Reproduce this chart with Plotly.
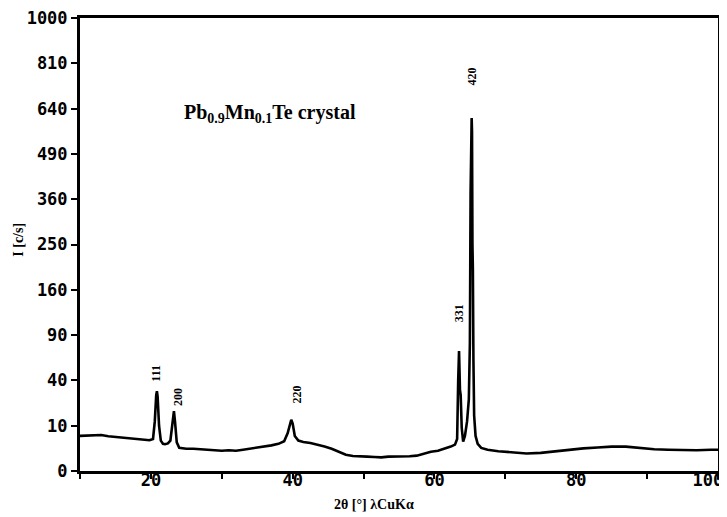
import numpy as np
import plotly.graph_objects as go

# 2-theta (degrees) and intensity (c/s)
two_theta = [10.0, 11.0, 12.0, 13.0, 14.0, 15.0, 16.0, 17.0, 18.0, 19.0, 19.8, 20.3, 20.55, 20.75,
             20.85, 20.95, 21.15, 21.4, 21.7, 22.0, 22.4, 22.75, 23.0, 23.15, 23.25, 23.4, 23.65,
             24.0, 24.5, 25.0, 26.0, 27.0, 28.0, 29.0, 30.0, 31.0, 32.0, 33.0, 34.0, 35.0, 36.0,
             37.0, 38.0, 38.8, 39.3, 39.6, 39.8, 40.0, 40.3, 40.8, 41.5, 42.5, 43.5, 44.5, 45.5,
             46.5, 47.5, 48.5, 49.5, 50.5, 51.5, 52.5, 53.5, 54.5, 55.5, 56.5, 57.5, 58.5, 59.5,
             60.5, 61.5, 62.3, 62.9, 63.2, 63.35, 63.47, 63.6, 63.7, 63.85, 64.05, 64.3, 64.6,
             64.85, 65.0, 65.1, 65.25, 65.3, 65.36, 65.42, 65.5, 65.6, 65.8, 66.1, 66.6, 67.5,
             69.0, 71.0, 73.0, 75.0, 77.0, 79.0, 81.0, 83.0, 85.0, 87.0, 89.0, 91.0, 93.0, 95.0,
             97.0, 99.0, 100.0]
intensity = [6.0, 6.1, 6.3, 6.3, 5.9, 5.7, 5.5, 5.3, 5.1, 4.9, 4.6, 5.0, 12, 28,
             31, 27, 10, 4.5, 3.6, 3.5, 3.7, 4.5, 11, 17, 17.5, 12, 4.0,
             2.6, 2.5, 2.4, 2.4, 2.3, 2.2, 2.1, 2.0, 2.1, 2.0, 2.2, 2.4, 2.7, 2.9,
             3.2, 3.6, 4.3, 7.0, 11, 12.8, 11, 6.0, 4.5, 4.1, 3.8, 3.4, 2.9, 2.4,
             1.8, 1.3, 1.1, 1.0, 1.0, 0.95, 0.9, 1.0, 1.0, 1.0, 1.05, 1.15, 1.5, 1.8,
             2.0, 2.4, 2.9, 3.4, 5.0, 40, 70, 32, 28, 9, 4.2, 6.0, 12,
             25, 80, 380, 607, 560, 250, 200, 60, 15, 6.0, 3.6, 2.6, 2.2,
             1.9, 1.7, 1.5, 1.6, 1.9, 2.3, 2.5, 2.7, 2.9, 2.9, 2.6, 2.3, 2.2, 2.1,
             2.1, 2.2, 2.2]

# y axis is a square-root intensity scale
y_tick_values = [0, 10, 40, 90, 160, 250, 360, 490, 640, 810, 1000]
y_tick_labels = ["0", "10", "40", "90", "160", "250", "360", "490", "640", "810", "1000"]
x_tick_values = [10, 20, 30, 40, 50, 60, 70, 80, 90, 100]
x_tick_labels = [" ", "20", " ", "40", " ", "60", " ", "80", " ", "100\u00a0\u00a0"]

peak_labels = ["111", "200", "220", "331", "420"]
peak_label_x = [20.8, 23.8, 40.55, 63.5, 65.25]
peak_label_levels = [0.216, 0.163, 0.168, 0.349, 0.87]   # paper y of label centres

fig = go.Figure()
fig.add_trace(go.Scatter(
    x=two_theta, y=np.sqrt(intensity), mode="lines",
    line=dict(color="black", width=2.6), hoverinfo="skip", showlegend=False))

tick_font = dict(family="DejaVu Sans Mono", size=17, color="black", weight="bold")

fig.update_xaxes(
    range=[10, 100.0001], tickmode="array", tickvals=x_tick_values, ticktext=x_tick_labels,
    ticks="outside", ticklen=5, tickwidth=2, tickcolor="black", ticklabelstandoff=-13,
    ticklabeloverflow="allow",
    showline=True, linecolor="black", linewidth=3, mirror=True,
    showgrid=False, zeroline=False, tickfont=tick_font, automargin=False)
fig.update_yaxes(
    range=[0, np.sqrt(1000)], tickmode="array",
    tickvals=list(np.sqrt(y_tick_values)), ticktext=y_tick_labels,
    ticks="outside", ticklen=6, tickwidth=2, tickcolor="black",
    ticklabeloverflow="allow",
    showline=True, linecolor="black", linewidth=3, mirror=True,
    showgrid=False, zeroline=False, tickfont=tick_font, automargin=False)

annotations = []
for lab, pos, lev in zip(peak_labels, peak_label_x, peak_label_levels):
    annotations.append(dict(
        x=pos, y=lev, xref="x", yref="paper", text=lab, showarrow=False, textangle=-90,
        xanchor="center", yanchor="middle",
        font=dict(family="Liberation Serif", size=12, color="black", weight="bold")))

annotations.append(dict(
    x=0.16, y=0.79, xref="paper", yref="paper", xanchor="left", yanchor="middle",
    text="Pb<sub>0.9</sub>Mn<sub>0.1</sub>Te crystal", showarrow=False,
    font=dict(family="Liberation Serif", size=20, color="black", weight="bold")))
annotations.append(dict(
    x=0.461, y=-0.075, xref="paper", yref="paper", xanchor="center", yanchor="middle",
    text="2θ [°] λCuKα", showarrow=False,
    font=dict(family="Liberation Serif", size=14, color="black", weight="bold")))
annotations.append(dict(
    x=-0.096, y=0.51, xref="paper", yref="paper", xanchor="center", yanchor="middle",
    text="I [c/s]", showarrow=False, textangle=-90,
    font=dict(family="Liberation Serif", size=14, color="black", weight="bold")))

# the page body adds an 8 px offset, so the figure is 8 px smaller than the window
fig.update_layout(
    width=719, height=509,
    margin=dict(l=72, r=9, t=10, b=46),
    paper_bgcolor="white", plot_bgcolor="white",
    annotations=annotations)

fig.write_html("out.html")
